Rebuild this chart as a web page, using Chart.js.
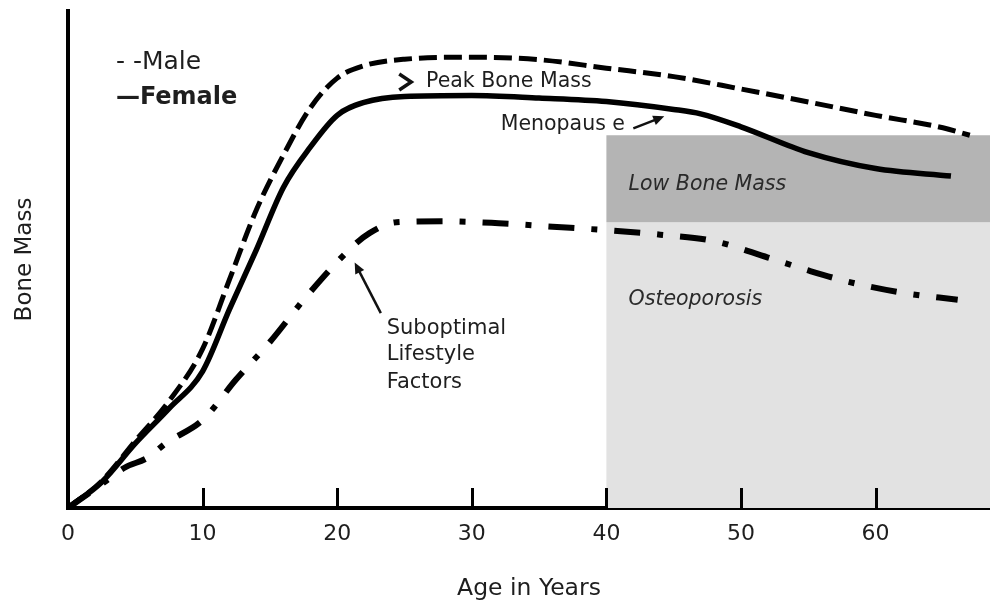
<!DOCTYPE html>
<html><head><meta charset="utf-8">
<script src="https://cdn.jsdelivr.net/npm/chart.js@4.4.1/dist/chart.umd.min.js"></script>
<style>html,body{margin:0;padding:0;background:#fff;}</style>
</head><body>
<canvas id="c" width="990" height="603"></canvas>
<script>
// ---- data ----
const maleAges   = [0, 2.5, 5, 7.5, 10, 12, 14, 16, 18, 20, 22, 25, 30, 35, 40, 45, 50, 55, 60, 65, 67];
const maleMass   = [0, 5.4, 13.5, 21.5, 32, 46, 60, 71, 80.5, 86.5, 89, 90.3, 90.7, 90.2, 88.5, 86.8, 84.3, 81.7, 79, 76.5, 75];
const femaleAges = [0, 2.5, 5, 7.5, 10, 12, 14, 16, 18, 20, 22, 25, 30, 35, 40, 45, 47, 50, 55, 60, 65.6];
const femaleMass = [0, 5.2, 13, 20, 27.5, 40, 52, 64.5, 72.6, 79, 81.6, 82.8, 83, 82.5, 81.8, 80.2, 79.3, 76.7, 71.5, 68.3, 66.8];
const subAges    = [0, 2.5, 4.2, 5.9, 7.3, 10, 12.5, 15, 17.7, 21.1, 22.4, 24.4, 28, 32, 36, 40, 44, 48, 52, 55, 58, 62, 66.1];
const subMass    = [0, 4.8, 8.1, 10.1, 13.1, 17.7, 25.9, 33.4, 42.5, 52.5, 55.3, 57.5, 57.7, 57.3, 56.6, 55.9, 55.0, 53.7, 50.4, 47.8, 45.5, 43.3, 41.9];
const xTickValues = [0, 10, 20, 30, 40, 50, 60];
const zoneStartAge = 40;
const lowMassBand = [57.5, 75];
const osteoBand = [0, 57.5];
const xLabel = 'Age in Years';
const yLabel = 'Bone Mass';
const seriesNames = ['Male', 'Female', 'Suboptimal Lifestyle Factors'];

const FONT = "'DejaVu Sans', sans-serif";
const TXT = '#1e1e1e';

const pts = (a, b) => a.map((v, i) => ({x: v, y: b[i]}));

const zonesPlugin = {
  id: 'zones',
  beforeDatasetsDraw(chart) {
    const {ctx, chartArea: ca, scales: {x, y}} = chart;
    const x0 = x.getPixelForValue(zoneStartAge);
    ctx.save();
    ctx.fillStyle = '#e2e2e2';
    ctx.fillRect(x0, y.getPixelForValue(osteoBand[1]), ca.right - x0, y.getPixelForValue(osteoBand[0]) - y.getPixelForValue(osteoBand[1]));
    ctx.fillStyle = '#b4b4b4';
    ctx.fillRect(x0, y.getPixelForValue(lowMassBand[1]), ca.right - x0, y.getPixelForValue(lowMassBand[0]) - y.getPixelForValue(lowMassBand[1]));
    ctx.restore();
  }
};

function arrow(ctx, x1, y1, x2, y2, w) {
  const ang = Math.atan2(y2 - y1, x2 - x1);
  const hl = 11, hw = 5;
  ctx.beginPath();
  ctx.moveTo(x1, y1);
  ctx.lineTo(x2 - Math.cos(ang) * hl * 0.7, y2 - Math.sin(ang) * hl * 0.7);
  ctx.lineWidth = w; ctx.stroke();
  ctx.beginPath();
  ctx.moveTo(x2, y2);
  ctx.lineTo(x2 - Math.cos(ang) * hl - Math.sin(ang) * hw, y2 - Math.sin(ang) * hl + Math.cos(ang) * hw);
  ctx.lineTo(x2 - Math.cos(ang) * hl + Math.sin(ang) * hw, y2 - Math.sin(ang) * hl - Math.cos(ang) * hw);
  ctx.closePath(); ctx.fill();
}

const notes = [
  {text: '- -Male', x: 3.56, y: 89.7, size: 25, style: 'normal', weight: 'normal'},
  {text: '\u2014Female', x: 3.56, y: 82.5, size: 24, style: 'normal', weight: 'bold'},
  {text: 'Peak Bone Mass', x: 26.6, y: 85.7, size: 20.5, style: 'normal', weight: 'normal'},
  {text: 'Menopaus e', x: 32.15, y: 77.1, size: 20.5, style: 'normal', weight: 'normal'},
  {text: 'Low Bone Mass', x: 41.65, y: 65.0, size: 20.5, style: 'italic', weight: 'normal', color: '#2a2a2a'},
  {text: 'Osteoporosis', x: 41.65, y: 41.85, size: 20.5, style: 'italic', weight: 'normal', color: '#2a2a2a'},
  {text: 'Suboptimal', x: 23.68, y: 36.2, size: 21, style: 'normal', weight: 'normal'},
  {text: 'Lifestyle', x: 23.68, y: 30.8, size: 21, style: 'normal', weight: 'normal'},
  {text: 'Factors', x: 23.68, y: 25.15, size: 21, style: 'normal', weight: 'normal'}
];

const annotPlugin = {
  id: 'annot',
  afterDatasetsDraw(chart) {
    const {ctx, chartArea: ca, scales: {x, y}} = chart;
    ctx.save();
    // inward tick marks on the x axis
    ctx.strokeStyle = '#000'; ctx.lineWidth = 3;
    xTickValues.forEach(v => {
      if (v === 0) return;
      const px = Math.round(x.getPixelForValue(v)) + 0.5;
      ctx.beginPath(); ctx.moveTo(px, ca.bottom); ctx.lineTo(px, ca.bottom - 20); ctx.stroke();
    });
    // texts
    ctx.textBaseline = 'middle'; ctx.textAlign = 'left';
    notes.forEach(n => {
      ctx.font = `${n.style} ${n.weight} ${n.size}px ${FONT}`;
      ctx.fillStyle = n.color || TXT;
      ctx.fillText(n.text, x.getPixelForValue(n.x), y.getPixelForValue(n.y));
    });
    // peak chevron
    const cx = x.getPixelForValue(25.5), cy = y.getPixelForValue(85.7);
    ctx.strokeStyle = '#111'; ctx.fillStyle = '#111'; ctx.lineWidth = 3.5; ctx.lineJoin = 'miter';
    ctx.beginPath();
    ctx.moveTo(cx - 12, cy - 8); ctx.lineTo(cx, cy); ctx.lineTo(cx - 12, cy + 8);
    ctx.stroke();
    // arrows
    ctx.lineJoin = 'round';
    arrow(ctx, x.getPixelForValue(42.0), y.getPixelForValue(76.4), x.getPixelForValue(44.3), y.getPixelForValue(78.8), 2.5);
    arrow(ctx, x.getPixelForValue(23.24), y.getPixelForValue(39.2), x.getPixelForValue(21.3), y.getPixelForValue(49.4), 2.5);
    ctx.restore();
  }
};

new Chart(document.getElementById('c'), {
  type: 'line',
  data: {
    datasets: [
      {label: seriesNames[0], data: pts(maleAges, maleMass), borderColor: '#000', borderWidth: 5, borderDash: [18, 7], pointRadius: 0, cubicInterpolationMode: 'monotone', fill: false, borderCapStyle: 'butt'},
      {label: seriesNames[1], data: pts(femaleAges, femaleMass), borderColor: '#000', borderWidth: 5.5, pointRadius: 0, cubicInterpolationMode: 'monotone', fill: false},
      {label: seriesNames[2], data: pts(subAges, subMass), borderColor: '#000', borderWidth: 6, borderDash: [26, 17, 6, 17], pointRadius: 0, cubicInterpolationMode: 'monotone', fill: false, borderCapStyle: 'butt'}
    ]
  },
  options: {
    responsive: false,
    animation: false,
    devicePixelRatio: 1,
    layout: {padding: {top: 11, right: 0, left: 0, bottom: 0}},
    plugins: {legend: {display: false}, tooltip: {enabled: false}},
    scales: {
      x: {
        type: 'linear', min: 0, max: 68.5, position: 'bottom',
        afterBuildTicks: s => { s.ticks = xTickValues.map(v => ({value: v})); },
        afterFit: s => { s.height = 95; },
        grid: {display: false, drawTicks: false},
        border: {display: true, color: '#000', width: 4},
        ticks: {padding: 13, color: TXT, font: {family: FONT, size: 22}, maxRotation: 0, autoSkip: false},
        title: {display: true, text: xLabel, color: TXT, font: {family: FONT, size: 23.5}, padding: {top: 1, bottom: 0}}
      },
      y: {
        type: 'linear', min: 0, max: 100,
        afterFit: s => { s.width = 68; },
        grid: {display: false, drawTicks: false},
        border: {display: true, color: '#000', width: 4},
        ticks: {display: false},
        title: {display: true, text: yLabel, color: TXT, font: {family: FONT, size: 23}, padding: {top: 11, bottom: 0}}
      }
    }
  },
  plugins: [zonesPlugin, annotPlugin]
});
</script>
</body></html>
